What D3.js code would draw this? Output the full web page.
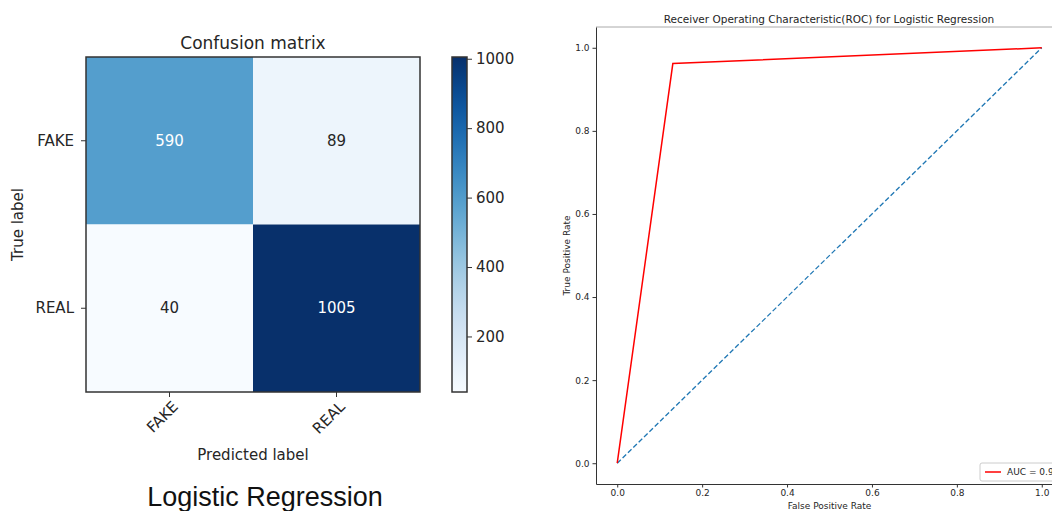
<!DOCTYPE html>
<html>
<head>
<meta charset="utf-8">
<script src="https://cdn.jsdelivr.net/npm/d3@7"></script>
<style>
  body { margin: 0; background: #fff; }
  svg { display: block; }
  text { font-family: "DejaVu Sans", sans-serif; fill: #262626; }
</style>
</head>
<body>
<svg id="chart" width="1052" height="511"></svg>
<script>
// confusion matrix data
const classes = ["FAKE", "REAL"];
const matrix = [[590, 89], [40, 1005]];
const cbarTicks = [200, 400, 600, 800, 1000];

// roc data
const fpr = [0, 0.131, 1];
const tpr = [0, 0.962, 1];
const chance = [0, 1];
const aucLabel = "AUC = 0.92";
const rocTicks = [0, 0.2, 0.4, 0.6, 0.8, 1.0];

const svg = d3.select("#chart");

// ---------- confusion matrix ----------
const cm = {left: 86, right: 420, top: 57, bottom: 392};
const cells = [];
matrix.forEach((row, i) => row.forEach((v, j) => cells.push({row: i, col: j, value: v})));
const vmin = d3.min(cells, d => d.value), vmax = d3.max(cells, d => d.value);

const cx = d3.scaleBand().domain(classes).range([cm.left, cm.right]);
const cy = d3.scaleBand().domain(classes).range([cm.top, cm.bottom]);
const color = d3.scaleSequential(d3.interpolateBlues).domain([vmin, vmax]);

svg.append("g")
  .selectAll("rect")
  .data(cells)
  .join("rect")
  .attr("x", d => cx(classes[d.col]))
  .attr("y", d => cy(classes[d.row]))
  .attr("width", cx.bandwidth())
  .attr("height", cy.bandwidth())
  .attr("fill", d => color(d.value));

// white text on dark cells, like sklearn's plot
const thresh = vmax / 2;
svg.append("g")
  .selectAll("text")
  .data(cells)
  .join("text")
  .attr("x", d => cx(classes[d.col]) + cx.bandwidth() / 2)
  .attr("y", d => cy(classes[d.row]) + cy.bandwidth() / 2)
  .attr("text-anchor", "middle")
  .attr("dominant-baseline", "central")
  .attr("font-size", 15)
  .style("fill", d => d.value > thresh ? "#fff" : "#262626")
  .text(d => d.value);

svg.append("rect")
  .attr("x", cm.left).attr("y", cm.top)
  .attr("width", cm.right - cm.left).attr("height", cm.bottom - cm.top)
  .attr("fill", "none").attr("stroke", "#333").attr("stroke-width", 1.5);

// ticks on both sides
const cmAx = svg.append("g");
classes.forEach(c => {
  const yy = cy(c) + cy.bandwidth() / 2;
  cmAx.append("line").attr("x1", cm.left - 5).attr("x2", cm.left).attr("y1", yy).attr("y2", yy)
    .attr("stroke", "#333");
  cmAx.append("text").attr("x", cm.left - 12).attr("y", yy)
    .attr("text-anchor", "end").attr("dominant-baseline", "central")
    .attr("font-size", 15).text(c);
});
classes.forEach(c => {
  const xx = cx(c) + cx.bandwidth() / 2;
  cmAx.append("line").attr("x1", xx).attr("x2", xx).attr("y1", cm.bottom).attr("y2", cm.bottom + 5)
    .attr("stroke", "#333");
  cmAx.append("text")
    .attr("transform", `translate(${xx + 6}, ${cm.bottom + 12}) rotate(-45)`)
    .attr("text-anchor", "end").attr("dominant-baseline", "central")
    .attr("font-size", 15).text(c);
});

svg.append("text").attr("x", (cm.left + cm.right) / 2).attr("y", 43)
  .attr("text-anchor", "middle").attr("dominant-baseline", "central")
  .attr("font-size", 17).text("Confusion matrix");
svg.append("text").attr("x", (cm.left + cm.right) / 2).attr("y", 455)
  .attr("text-anchor", "middle").attr("dominant-baseline", "central")
  .attr("font-size", 15).text("Predicted label");
svg.append("text").attr("transform", `translate(18, ${(cm.top + cm.bottom) / 2}) rotate(-90)`)
  .attr("text-anchor", "middle").attr("dominant-baseline", "central")
  .attr("font-size", 15).text("True label");

// colorbar
const cb = {left: 452, right: 467, top: 57, bottom: 392};
const cbScale = d3.scaleLinear().domain([vmin, vmax]).range([cb.bottom, cb.top]);
const defs = svg.append("defs");
const grad = defs.append("linearGradient").attr("id", "cbgrad")
  .attr("x1", 0).attr("y1", 1).attr("x2", 0).attr("y2", 0);
d3.range(0, 1.0001, 0.05).forEach(t => {
  grad.append("stop").attr("offset", t).attr("stop-color", d3.interpolateBlues(t));
});
svg.append("rect").attr("x", cb.left).attr("y", cb.top)
  .attr("width", cb.right - cb.left).attr("height", cb.bottom - cb.top)
  .attr("fill", "url(#cbgrad)").attr("stroke", "#333").attr("stroke-width", 1.5);
const cbAxis = d3.axisRight(cbScale).tickValues(cbarTicks).tickFormat(d3.format("d")).tickSize(5).tickPadding(4);
const cbG = svg.append("g").attr("transform", `translate(${cb.right}, 0)`).call(cbAxis);
cbG.select(".domain").remove();
cbG.selectAll(".tick line").attr("stroke", "#333");
cbG.selectAll(".tick text").attr("font-size", 15).attr("font-family", "DejaVu Sans").style("fill", "#262626");

svg.append("text").attr("x", 265).attr("y", 497)
  .attr("text-anchor", "middle").attr("dominant-baseline", "central")
  .attr("font-size", 27).style("font-family", "Liberation Sans, Arial, sans-serif").style("fill", "#111")
  .text("Logistic Regression");

// ---------- ROC ----------
// the right part of this axes is cropped off in the reference
const roc = {left: 596, right: 1063, top: 27, bottom: 484};
const rx = d3.scaleLinear().domain([-0.05, 1.05]).range([roc.left, roc.right]);
const ry = d3.scaleLinear().domain([-0.05, 1.05]).range([roc.bottom, roc.top]);

svg.append("line").attr("x1", roc.left).attr("x2", roc.right).attr("y1", roc.top).attr("y2", roc.top)
  .attr("stroke", "#aaa").attr("stroke-width", 1);

const line = d3.line().x(d => rx(d[0])).y(d => ry(d[1]));
svg.append("path")
  .attr("d", line(chance.map((v, i) => [v, chance[i]])))
  .attr("fill", "none").attr("stroke", "#1f77b4").attr("stroke-width", 1.3)
  .attr("stroke-dasharray", "5,2.5");
svg.append("path")
  .attr("d", line(fpr.map((v, i) => [v, tpr[i]])))
  .attr("fill", "none").attr("stroke", "red").attr("stroke-width", 1.5);

const xAxis = d3.axisBottom(rx).tickValues(rocTicks).tickFormat(d3.format(".1f")).tickSize(3.5).tickSizeOuter(0).tickPadding(2);
const xg = svg.append("g").attr("transform", `translate(0, ${roc.bottom})`).call(xAxis);
const yAxis = d3.axisLeft(ry).tickValues(rocTicks).tickFormat(d3.format(".1f")).tickSize(3.5).tickSizeOuter(0).tickPadding(3);
const yg = svg.append("g").attr("transform", `translate(${roc.left}, 0)`).call(yAxis);
[xg, yg].forEach(g => {
  g.select(".domain").attr("stroke", "#333");
  g.selectAll(".tick line").attr("stroke", "#333");
  g.selectAll(".tick text").attr("font-size", 9).attr("font-family", "DejaVu Sans").style("fill", "#262626");
});

svg.append("text").attr("x", 829).attr("y", 19)
  .attr("text-anchor", "middle").attr("dominant-baseline", "central")
  .attr("font-size", 10.5).text("Receiver Operating Characteristic(ROC) for Logistic Regression");
svg.append("text").attr("x", (rx(0) + rx(1)) / 2).attr("y", 506)
  .attr("text-anchor", "middle").attr("dominant-baseline", "central")
  .attr("font-size", 9).text("False Positive Rate");
svg.append("text").attr("transform", `translate(567, ${(ry(0) + ry(1)) / 2}) rotate(-90)`)
  .attr("text-anchor", "middle").attr("dominant-baseline", "central")
  .attr("font-size", 9).text("True Positive Rate");

// legend (cropped at the right edge, as in the reference)
const lg = svg.append("g").attr("transform", "translate(980, 463)");
lg.append("rect").attr("x", 0).attr("y", 0).attr("width", 90).attr("height", 18).attr("rx", 2)
  .attr("fill", "#fff").attr("stroke", "#ccc");
lg.append("line").attr("x1", 5).attr("x2", 21).attr("y1", 9).attr("y2", 9)
  .attr("stroke", "red").attr("stroke-width", 1.5);
lg.append("text").attr("x", 27).attr("y", 9).attr("dominant-baseline", "central")
  .attr("font-size", 9).text(aucLabel);
</script>
</body>
</html>
